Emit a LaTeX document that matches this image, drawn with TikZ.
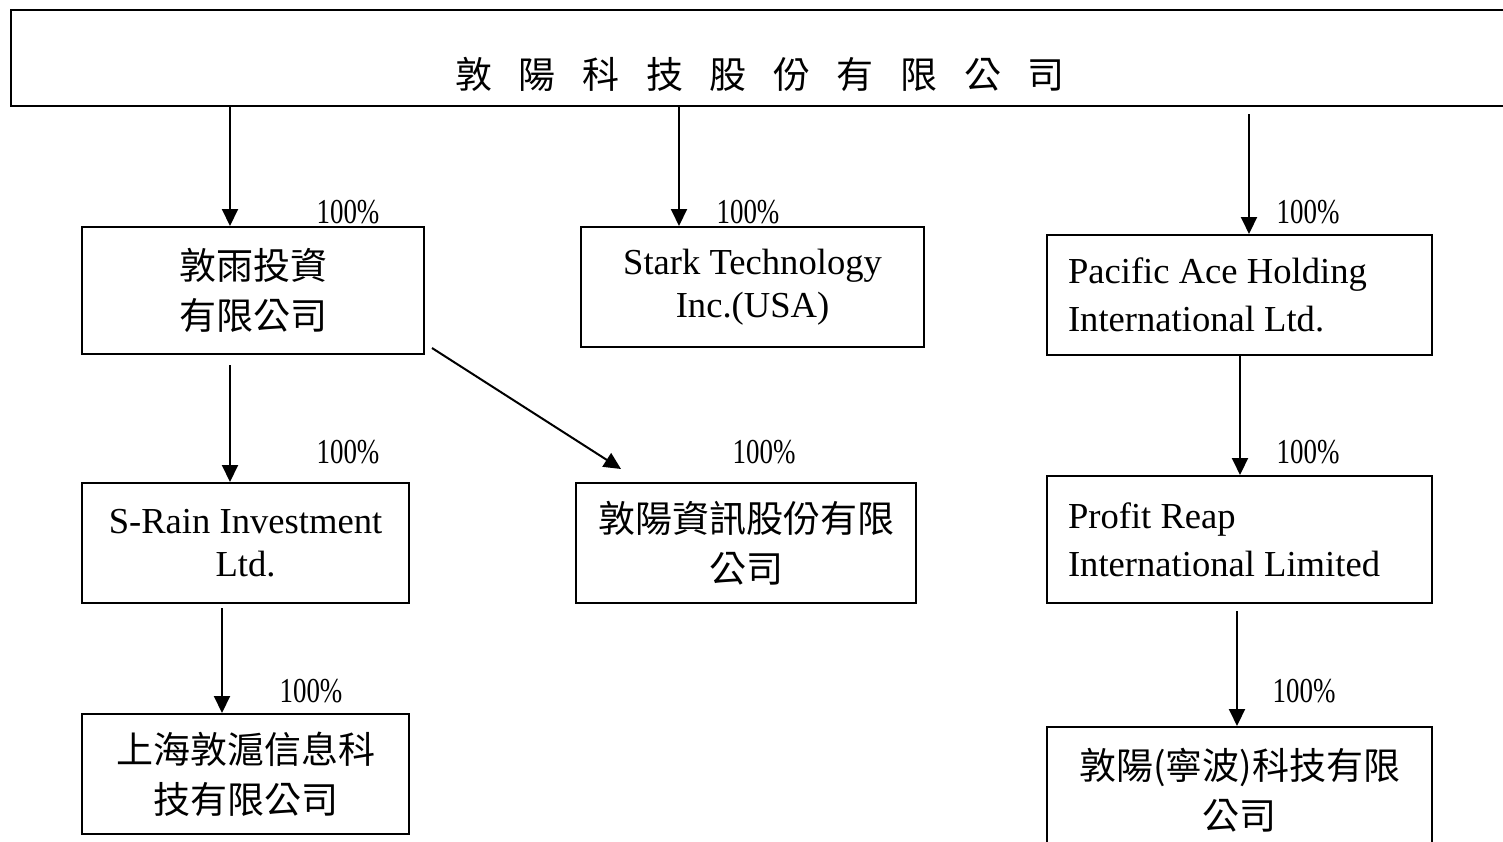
\documentclass[tikz,border=0pt]{standalone}
\usepackage{fontspec}
\setmainfont{Liberation Serif}
\newfontfamily\cjk{Noto Sans CJK TC}
\newfontfamily\pct{Liberation Serif}[FakeStretch=0.77]
\usetikzlibrary{arrows.meta}
\newcommand{\tgap}{\hspace{0.72em}}

\tikzset{
  box/.style={draw, line width=1pt, inner sep=0pt, align=center,
    font=\fontsize{18.3pt}{21.5pt}\selectfont},
  cbox/.style={box, font=\cjk\fontsize{18.5pt}{25pt}\selectfont},
  lbox/.style={box, align=flush left, inner xsep=10.5pt, text width=171.5pt,
    font=\fontsize{18.3pt}{24pt}\selectfont},
  arr/.style={line width=1pt, -{Triangle[length=8.5pt,width=8pt]}},
  pc/.style={font=\pct\fontsize{17.5pt}{20pt}\selectfont, inner sep=0pt}
}

\begin{document}
\begin{tikzpicture}[x=0.5pt, y=-0.5pt]
    \useasboundingbox (0,0) rectangle (1503,841);
    \clip (0,0) rectangle (1503,841);
    % parent company
    \node[box, minimum width=749.5pt, minimum height=48pt] (top) at (760.5,58) {};
    \node[font=\cjk\fontsize{18.5pt}{25pt}\selectfont, inner sep=0pt] (title) at (760,74)
      {敦\tgap 陽\tgap 科\tgap 技\tgap 股\tgap 份\tgap 有\tgap 限\tgap 公\tgap 司};
    % first level
    \node[cbox, minimum width=171pt, minimum height=63.5pt] (dunyu) at (253,290.5) {敦雨投資\\有限公司};
    \node[box, minimum width=171.5pt, minimum height=60pt] (stark) at (752.5,287) {Stark Technology\\Inc.(USA)};
    \node[lbox, minimum height=60pt] (pacific) at (1239.5,295) {Pacific Ace Holding\\International Ltd.};
    % second level
    \node[box, minimum width=163.5pt, minimum height=60pt] (srain) at (245.5,543) {S-Rain Investment\\Ltd.};
    \node[cbox, minimum width=170pt, minimum height=60pt] (dunyang) at (746,543) {敦陽資訊股份有限\\公司};
    \node[lbox, minimum height=63.5pt] (profit) at (1239.5,539.5) {Profit Reap\\International Limited};
    % third level
    \node[cbox, minimum width=163.5pt, minimum height=60pt] (shanghai) at (245.5,774) {上海敦滬信息科\\技有限公司};
    \node[cbox, minimum width=192.5pt, minimum height=63.5pt] (ningbo) at (1239.5,790.5) {敦陽(寧波)科技有限\\公司};

    % arrow columns
    \coordinate (c1) at (230,0);
    \coordinate (c2) at (679,0);
    \coordinate (c3) at (1249,0);
    \coordinate (c4) at (1240,0);
    \coordinate (c5) at (222,0);
    \coordinate (c6) at (1237,0);
    \draw[arr] (top.south -| c1) -- (dunyu.north -| c1);
    \draw[arr] (top.south -| c2) -- (stark.north -| c2);
    \draw[arr, shorten <=3.5pt] (top.south -| c3) -- (pacific.north -| c3);
    \draw[arr, shorten <=5pt] (dunyu.south -| c1) -- (srain.north -| c1);
    \draw[arr] ([shift={(7,-7)}]dunyu.south east) -- ([shift={(46,-13)}]dunyang.north west);
    \draw[arr] (pacific.south -| c4) -- (profit.north -| c4);
    \draw[arr, shorten <=2pt] (srain.south -| c5) -- (shanghai.north -| c5);
    \draw[arr, shorten <=3.5pt] (profit.south -| c6) -- (ningbo.north -| c6);

    % shares
    \node[pc] (p1) at (348,212) {100\%};
    \node[pc] (p2) at (748,212) {100\%};
    \node[pc] (p3) at (1308,212) {100\%};
    \node[pc] (p4) at (348,452) {100\%};
    \node[pc] (p5) at (764,452) {100\%};
    \node[pc] (p6) at (1308,452) {100\%};
    \node[pc] (p7) at (311,691) {100\%};
    \node[pc] (p8) at (1304,691) {100\%};
\end{tikzpicture}
\end{document}
